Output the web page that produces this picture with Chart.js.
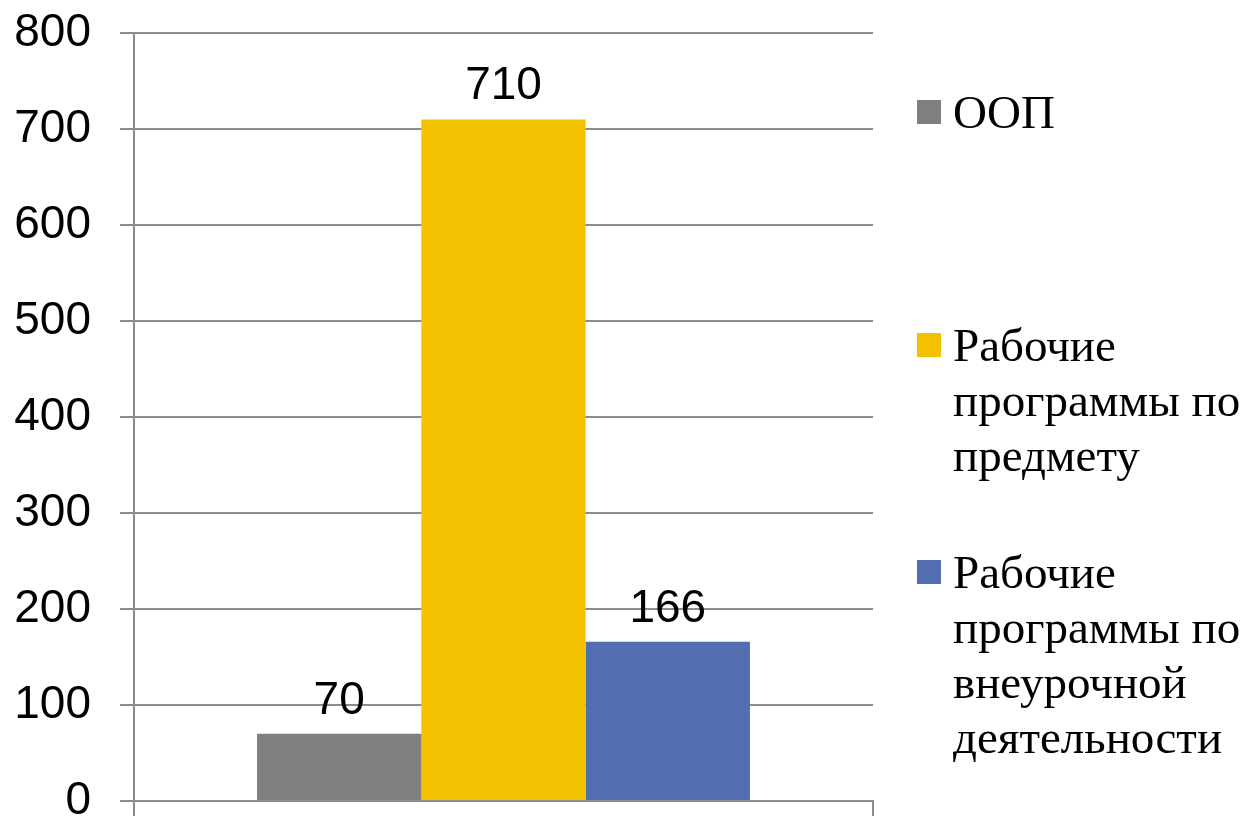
<!DOCTYPE html>
<html>
<head>
<meta charset="utf-8">
<script src="https://cdn.jsdelivr.net/npm/chart.js@4"></script>
<style>
  html, body { margin: 0; padding: 0; background: #fff; }
  #wrap { position: relative; width: 1249px; height: 816px; }
  #legend { position: absolute; left: 917px; top: 0; font-family: "Liberation Serif", "Times New Roman", serif; font-size: 47px; line-height: 55px; color: #000; }
  .item { position: absolute; left: 0; display: flex; align-items: flex-start; white-space: nowrap; }
  .box { width: 24px; height: 24px; margin-top: 15px; margin-right: 12px; flex: none; }
</style>
</head>
<body>
<div id="wrap">
  <canvas id="chart" width="1249" height="816"></canvas>
  <div id="legend"></div>
</div>
<script>
const seriesNames = ["ООП", "Рабочие программы по предмету", "Рабочие программы по внеурочной деятельности"];
const legendLines = [["ООП"], ["Рабочие", "программы по", "предмету"], ["Рабочие", "программы по", "внеурочной", "деятельности"]];
const seriesValues = [70, 710, 166];
const seriesColors = ["#7f7f7f", "#f2c200", "#506eb0"];
const categories = [""];
const legendTops = [85, 318, 545];

const valueLabels = {
  id: "valueLabels",
  afterDatasetsDraw(chart) {
    const ctx = chart.ctx;
    ctx.save();
    ctx.font = "46px 'Liberation Sans', Arial, sans-serif";
    ctx.fillStyle = "#000";
    ctx.textAlign = "center";
    ctx.textBaseline = "alphabetic";
    chart.data.datasets.forEach((ds, i) => {
      chart.getDatasetMeta(i).data.forEach((bar, j) => {
        ctx.fillText(String(ds.data[j]), bar.x, bar.y - 20);
      });
    });
    ctx.restore();
  }
};

new Chart(document.getElementById("chart"), {
  type: "bar",
  data: {
    labels: categories,
    datasets: seriesNames.map((name, i) => ({
      label: name,
      data: [seriesValues[i]],
      backgroundColor: seriesColors[i],
      barPercentage: 1,
      categoryPercentage: 0.667
    }))
  },
  options: {
    responsive: false,
    animation: false,
    layout: { padding: { left: 14, right: 376, top: 0, bottom: 0 } },
    plugins: {
      legend: { display: false },
      tooltip: { enabled: false }
    },
    scales: {
      x: {
        grid: { drawOnChartArea: false, drawTicks: true, tickLength: 15, color: "#8c8c8c", lineWidth: 2 },
        border: { color: "#8c8c8c", width: 2 },
        ticks: { display: false },
        afterFit(scale) { scale.height = 15; }
      },
      y: {
        min: 0,
        max: 800,
        ticks: {
          stepSize: 100,
          padding: 29,
          color: "#000",
          font: { family: "'Liberation Sans', Arial, sans-serif", size: 46 }
        },
        grid: { color: "#8c8c8c", lineWidth: 2, tickLength: 14 },
        border: { color: "#8c8c8c", width: 2 },
        afterFit(scale) { scale.width = 120; scale.paddingTop = 33; scale.paddingBottom = 0; }
      }
    }
  },
  plugins: [valueLabels]
});

const legend = document.getElementById("legend");
legendLines.forEach((lines, i) => {
  const item = document.createElement("div");
  item.className = "item";
  item.style.top = legendTops[i] + "px";
  const box = document.createElement("div");
  box.className = "box";
  box.style.background = seriesColors[i];
  const text = document.createElement("div");
  text.innerHTML = lines.join("<br>");
  item.appendChild(box);
  item.appendChild(text);
  legend.appendChild(item);
});
</script>
</body>
</html>
